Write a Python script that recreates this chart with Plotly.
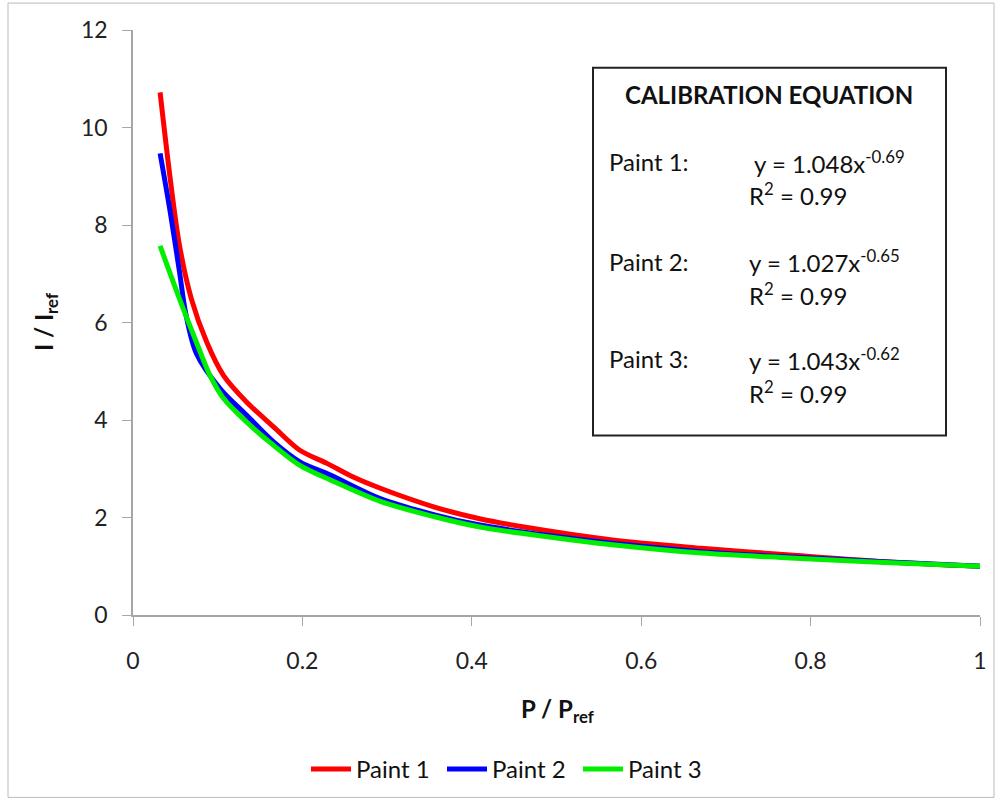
import plotly.graph_objects as go

# ---- data ----
p1_x = [0.032, 0.044, 0.055, 0.069, 0.087, 0.107, 0.134, 0.166, 0.197, 0.229, 0.260, 0.292, 0.355, 0.408, 0.460, 0.566, 0.671, 0.776, 0.881, 1.0]
p1_y = [10.72, 8.94, 7.57, 6.48, 5.60, 4.91, 4.37, 3.86, 3.38, 3.11, 2.83, 2.60, 2.22, 1.98, 1.81, 1.54, 1.37, 1.23, 1.10, 1.0]

p2_x = [0.032, 0.044, 0.055, 0.062, 0.075, 0.103, 0.134, 0.166, 0.197, 0.233, 0.292, 0.355, 0.408, 0.487, 0.566, 0.671, 0.776, 0.881, 1.0]
p2_y = [9.47, 8.26, 7.03, 6.21, 5.36, 4.64, 4.10, 3.55, 3.14, 2.87, 2.39, 2.06, 1.85, 1.64, 1.47, 1.30, 1.19, 1.10, 1.0]

p3_x = [0.032, 0.055, 0.075, 0.091, 0.107, 0.134, 0.166, 0.197, 0.233, 0.292, 0.355, 0.408, 0.487, 0.566, 0.671, 0.776, 0.881, 1.0]
p3_y = [7.57, 6.48, 5.59, 4.91, 4.44, 3.96, 3.48, 3.07, 2.77, 2.33, 2.02, 1.81, 1.61, 1.44, 1.27, 1.17, 1.08, 1.0]

series_names = ["Paint 1", "Paint 2", "Paint 3"]
series_colors = ["#FF0000", "#0000FF", "#00EE00"]

x_ticks = [0, 0.2, 0.4, 0.6, 0.8, 1]
x_tick_labels = ["0", "0.2", "0.4", "0.6", "0.8", "1"]
y_ticks = [0, 2, 4, 6, 8, 10, 12]

box_title = "CALIBRATION EQUATION"
box_labels = ["Paint 1:", "Paint 2:", "Paint 3:"]
box_eqs = ["y = 1.048x<sup>-0.69</sup>", "y = 1.027x<sup>-0.65</sup>", "y = 1.043x<sup>-0.62</sup>"]
box_r2 = ["R<sup>2</sup> = 0.99", "R<sup>2</sup> = 0.99", "R<sup>2</sup> = 0.99"]

FONT = "Lato, 'Open Sans', sans-serif"

# pixel geometry helpers (plot area: x 133..980, y 30..617)
L, R, T, B = 133, 980, 30, 617
W, H = R - L, B - T


def px(xp):
    return (xp - L) / W


def py(yp):
    return (B - yp) / H


fig = go.Figure()
for xs, ys, name, col in zip([p1_x, p2_x, p3_x], [p1_y, p2_y, p3_y], series_names, series_colors):
    fig.add_trace(go.Scatter(x=xs, y=ys, mode="lines", name=name,
                             line=dict(color=col, width=5, shape="spline", smoothing=0.9)))

axis_common = dict(showgrid=False, zeroline=False, showline=True, linecolor="#A6A6A6",
                   linewidth=1.5, ticks="outside", ticklen=9, tickcolor="#A6A6A6",
                   tickfont=dict(family=FONT, size=23, color="#222222"))

fig.update_xaxes(range=[0, 1], tickvals=x_ticks, ticktext=x_tick_labels,
                 ticklabelstandoff=16, **axis_common)
fig.update_yaxes(range=[0, 12], tickvals=y_ticks, ticklabelstandoff=10, **axis_common)

shapes = [
    # calibration box
    dict(type="rect", xref="paper", yref="paper", x0=px(593), x1=px(946), y0=py(437), y1=py(68),
         line=dict(color="#222222", width=2), fillcolor="white", layer="below"),
    # outer border
    dict(type="rect", xref="paper", yref="paper", x0=px(8), x1=px(994), y0=py(800), y1=py(3),
         line=dict(color="#BBBBBB", width=1)),
]

ann = []
ann.append(dict(text="<b>I / I<sub>ref</sub></b>", x=px(45), y=py(323), textangle=-90, size=24))
ann.append(dict(text="<b>P / P<sub>ref</sub></b>", x=px(557), y=py(713), size=24))
ann.append(dict(text="<b>" + box_title + "</b>", x=px(769), y=py(95), size=24))
label_y = [162, 262, 360]
eq_x = [752, 747, 747]
for lab, eq, r2, yy, ex in zip(box_labels, box_eqs, box_r2, label_y, eq_x):
    ann.append(dict(text=lab, x=px(607), y=py(yy), xanchor="left"))
    ann.append(dict(text=eq, x=px(ex), y=py(yy), xanchor="left"))
    ann.append(dict(text=r2, x=px(747), y=py(yy + 33), xanchor="left"))

annotations = []
for a in ann:
    size = a.pop("size", 24)
    d = dict(xref="paper", yref="paper", showarrow=False, xanchor=a.get("xanchor", "center"),
             yanchor="middle", font=dict(family=FONT, size=size, color="#111111"))
    d.update(a)
    annotations.append(d)

fig.update_layout(
    width=1000, height=804,
    margin=dict(l=L, r=1000 - R, t=T, b=804 - B),
    plot_bgcolor="white", paper_bgcolor="white",
    shapes=shapes, annotations=annotations,
    legend=dict(orientation="h", x=px(510), y=py(772), xanchor="center", yanchor="middle",
                font=dict(family=FONT, size=24, color="#111111"), itemwidth=40,
                entrywidth=81, entrywidthmode="pixels", tracegroupgap=0),
    showlegend=True,
)

fig.write_html("out.html")
